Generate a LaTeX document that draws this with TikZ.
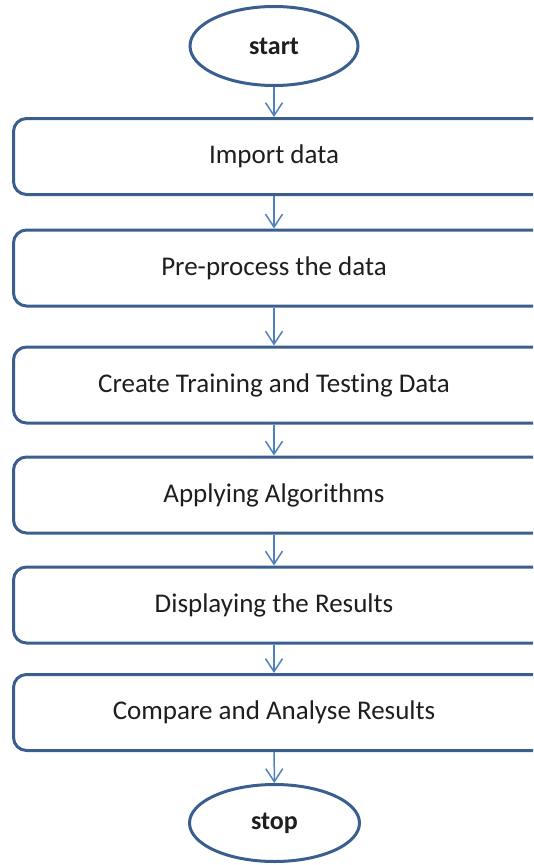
\documentclass[tikz,border=0pt]{standalone}
\usepackage{fontspec}
\setmainfont{Carlito}[Ligatures=NoCommon]
\usetikzlibrary{shapes.geometric,arrows.meta}
\definecolor{boxline}{HTML}{3A5F8F}
\definecolor{arrowline}{HTML}{4F81BD}
\definecolor{textcol}{HTML}{1E1E1E}
\tikzset{
  >={Straight Barb[length=13pt,width=17pt]},
}
\tikzstyle{terminal}=[ellipse,draw=boxline,line width=3pt,text=textcol,
  inner sep=0pt,minimum width=168pt,minimum height=79pt,
  font=\fontsize{26}{30}\selectfont\bfseries]
\tikzstyle{process}=[rectangle,outer sep=1.5pt,text=textcol,
  minimum width=521pt,minimum height=76pt,
  font=\fontsize{27}{30}\selectfont]
\tikzstyle{frame}=[draw=boxline,line width=3pt,rounded corners=13pt]
\tikzstyle{flow}=[->,arrowline,line width=1.5pt]

\begin{document}
\begin{tikzpicture}[x=1pt,y=-1pt]
    \useasboundingbox (0,0) rectangle (533,865);
    \clip (0,0) rectangle (533,865);
    \node[terminal] (start) at (274,46) {start};
    \node[process] (import) at (274,156.5) {Import data};
    \node[process] (prep) at (274,268) {Pre-process the data};
    \node[process] (split) at (274,385) {Create Training and Testing Data};
    \node[process] (algo) at (274,495) {Applying Algorithms};
    \node[process] (show) at (274,605) {Displaying the Results};
    \node[process] (comp) at (274,712.5) {Compare and Analyse Results};
    \node[terminal,minimum width=170pt,minimum height=77pt] (stop) at (274.5,823) {stop};
    % the boxes run on past the right edge of the picture
    \foreach \b in {import,prep,split,algo,show,comp}
      \draw[frame] ([xshift=1.5pt,yshift=1.5pt]\b.south west) rectangle
        ([xshift=40pt,yshift=-1.5pt]\b.north east);
    \draw[flow] (start) -- (import);
    \draw[flow] (import) -- (prep);
    \draw[flow] (prep) -- (split);
    \draw[flow] (split) -- (algo);
    \draw[flow] (algo) -- (show);
    \draw[flow] (show) -- (comp);
    \draw[flow] (comp) -- (stop);
  \end{tikzpicture}
\end{document}
